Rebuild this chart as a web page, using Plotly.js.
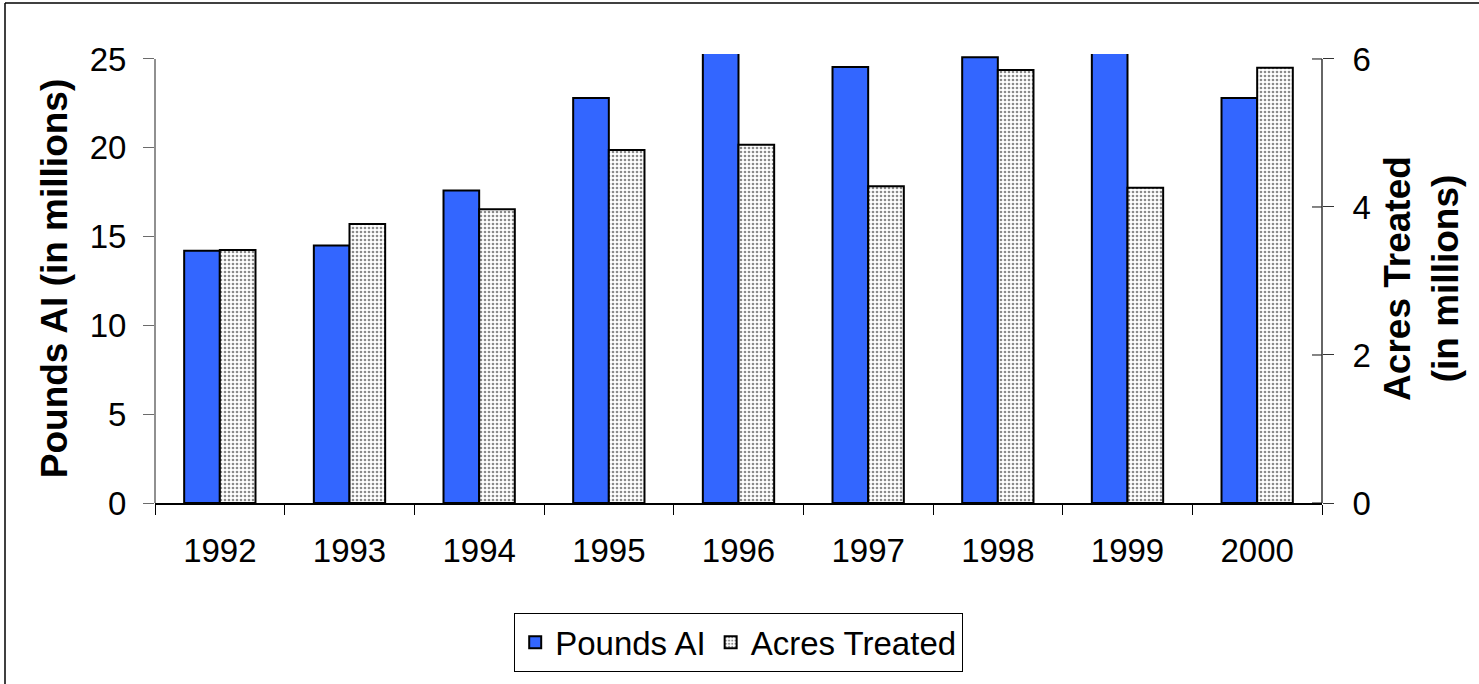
<!DOCTYPE html>
<html>
<head>
<meta charset="utf-8">
<script src="https://cdn.plot.ly/plotly-3.0.1.min.js"></script>
<style>
  html, body { margin: 0; padding: 0; background: #fff; }
  #chart { width: 1479px; height: 684px; }
</style>
</head>
<body>
<div id="chart"></div>
<script>
const years = ["1992", "1993", "1994", "1995", "1996", "1997", "1998", "1999", "2000"];
const poundsAI = [14.2, 14.5, 17.6, 22.8, 26.2, 24.55, 25.1, 26.1, 22.8];
const acresTreated = [3.42, 3.77, 3.97, 4.77, 4.84, 4.28, 5.85, 4.26, 5.88];
const leftTicks = [0, 5, 10, 15, 20, 25];
const rightTicks = [0, 2, 4, 6];

const FONT = "Liberation Sans, Arial, sans-serif";
const leftMax = 25, rightMax = 6;
const headroom = 1.0112; // plot area extends slightly above top tick (bars clip there)

const traces = [
  {
    type: "bar", name: "Pounds AI", x: years, y: poundsAI, yaxis: "y",
    width: 0.275, offset: -0.275,
    marker: { color: "#3366FF", line: { color: "#000", width: 2 } },
    hoverinfo: "x+y"
  },
  {
    type: "bar", name: "Acres Treated", x: years, y: acresTreated, yaxis: "y2",
    width: 0.275, offset: 0,
    marker: {
      color: "#ffffff",
      line: { color: "#000", width: 2 },
      pattern: { shape: ".", bgcolor: "#ffffff", fgcolor: "#8a8a8a", size: 4, solidity: 0.35 }
    },
    hoverinfo: "x+y"
  }
];

const shapes = [];
shapes.push({ type: "line", xref: "paper", yref: "y", x0: 0, x1: 0, y0: 0, y1: leftMax,
  line: { color: "#6b6b6b", width: 1.5 } });
shapes.push({ type: "line", xref: "paper", yref: "y2", x0: 1, x1: 1, y0: 0, y1: rightMax,
  line: { color: "#333", width: 1.5 } });
rightTicks.forEach(v => shapes.push({
  type: "line", xref: "paper", yref: "y2", xsizemode: "pixel", xanchor: 1,
  x0: -10, x1: 0, y0: v, y1: v, line: { color: "#333", width: 1.2 }
}));
shapes.push({ type: "line", xref: "paper", yref: "paper", xsizemode: "pixel", ysizemode: "pixel",
  xanchor: 0, yanchor: 1, x0: -150, x1: 1330, y0: 51, y1: 51, line: { color: "#000", width: 1.5 } });
shapes.push({ type: "line", xref: "paper", yref: "paper", xsizemode: "pixel", ysizemode: "pixel",
  xanchor: 0, yanchor: 1, x0: -150, x1: -150, y0: 51, y1: -640, line: { color: "#000", width: 1.5 } });

const layout = {
  width: 1479, height: 684,
  margin: { l: 155, r: 157, t: 54, b: 181, pad: 0 },
  paper_bgcolor: "#fff", plot_bgcolor: "#fff",
  font: { family: FONT, size: 33, color: "#000" },
  showlegend: true,
  legend: {
    orientation: "h", x: 0.5, xanchor: "center", y: -0.245, yanchor: "top",
    bordercolor: "#000", borderwidth: 1.2, font: { family: FONT, size: 33, color: "#000" },
    itemsizing: "constant", itemwidth: 30, tracegroupgap: 0
  },
  xaxis: {
    type: "category", showline: true, linecolor: "#000", linewidth: 1.5,
    ticks: "outside", tickson: "boundaries", ticklen: 10, tickcolor: "#000", tickwidth: 1.2,
    showgrid: false, zeroline: false, ticklabelstandoff: 18,
    tickfont: { family: FONT, size: 33, color: "#000" }
  },
  yaxis: {
    range: [0, leftMax * headroom], tickvals: leftTicks, ticktext: leftTicks.map(String),
    showline: false, ticks: "outside", ticklen: 11, tickcolor: "#6b6b6b", tickwidth: 1.2,
    showgrid: false, zeroline: false, ticklabelstandoff: 10,
    tickfont: { family: FONT, size: 33, color: "#000" },
    title: { text: "Pounds AI (in millions)", font: { family: FONT, size: 37, color: "#000", weight: "bold" }, standoff: 10 }
  },
  yaxis2: {
    range: [0, rightMax * headroom], tickvals: rightTicks, ticktext: rightTicks.map(String),
    overlaying: "y", side: "right",
    showline: false, ticks: "outside", ticklen: 11, tickcolor: "#333", tickwidth: 1.2,
    showgrid: false, zeroline: false, ticklabelstandoff: 12,
    tickfont: { family: FONT, size: 33, color: "#000" },
    title: { text: "Acres Treated<br>(in millions)", font: { family: FONT, size: 37, color: "#000", weight: "bold" }, standoff: 14 }
  },
  shapes: shapes,
  bargap: 0.45
};

Plotly.newPlot("chart", traces, layout, { displayModeBar: false, responsive: false });
</script>
</body>
</html>
